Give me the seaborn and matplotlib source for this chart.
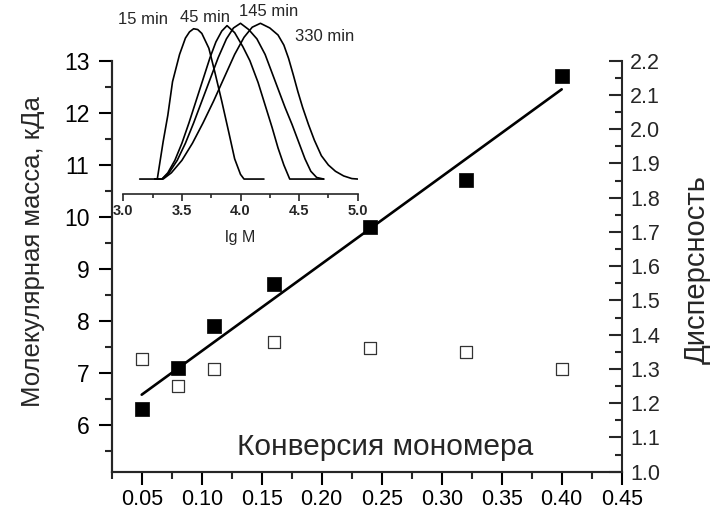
import matplotlib
matplotlib.use("Agg")
import matplotlib.pyplot as plt
import seaborn as sns
import pandas as pd
from matplotlib.ticker import MultipleLocator

# Основные данные
conversion = [0.05, 0.08, 0.11, 0.16, 0.24, 0.32, 0.40]
mol_mass = [6.3, 7.1, 7.9, 8.7, 9.8, 10.7, 12.7]
dispersity = [1.33, 1.25, 1.30, 1.38, 1.36, 1.35, 1.30]

# Прямая (концы линии)
fit_x = [0.05, 0.40]
fit_y = [6.58, 12.45]

# ГПХ-кривые для вставки
lgm_15 = [3.14, 3.29, 3.34, 3.38, 3.42, 3.48, 3.53, 3.565, 3.60, 3.635, 3.67, 3.73, 3.78, 3.84, 3.90, 3.95, 4.00, 4.03, 4.20]
h_15 = [0, 0, 0.24, 0.41, 0.625, 0.80, 0.905, 0.945, 0.965, 0.96, 0.935, 0.84, 0.69, 0.50, 0.30, 0.13, 0.03, 0, 0]

lgm_45 = [3.27, 3.33, 3.38, 3.44, 3.50, 3.56, 3.62, 3.68, 3.74, 3.79, 3.84, 3.885,
          3.95, 4.02, 4.08, 4.15, 4.21, 4.27, 4.32, 4.37, 4.42, 4.71]
h_45 = [0, 0, 0.04, 0.12, 0.23, 0.36, 0.50, 0.64, 0.78, 0.88, 0.95, 0.985,
        0.94, 0.85, 0.76, 0.62, 0.475, 0.33, 0.20, 0.09, 0, 0]

lgm_145 = [3.27, 3.33, 3.39, 3.46, 3.53, 3.60, 3.67, 3.74, 3.81, 3.88, 3.94, 4.00,
           4.07, 4.14, 4.21, 4.27, 4.32, 4.38, 4.44, 4.50, 4.55, 4.60, 4.65, 4.71]
h_145 = [0, 0, 0.04, 0.12, 0.23, 0.36, 0.50, 0.64, 0.78, 0.90, 0.97, 1.0,
         0.96, 0.90, 0.80, 0.68, 0.58, 0.46, 0.35, 0.23, 0.13, 0.05, 0.01, 0]

lgm_330 = [3.27, 3.34, 3.41, 3.50, 3.59, 3.68, 3.77, 3.86, 3.95, 4.03, 4.10, 4.17,
           4.25, 4.32, 4.37, 4.41, 4.45, 4.49, 4.53, 4.58, 4.63, 4.69, 4.75, 4.81, 4.88, 4.95, 5.0]
h_330 = [0, 0, 0.04, 0.12, 0.23, 0.36, 0.50, 0.65, 0.80, 0.91, 0.975, 1.0,
         0.97, 0.925, 0.86, 0.775, 0.67, 0.56, 0.46, 0.35, 0.25, 0.15, 0.09, 0.05, 0.02, 0.003, 0]

curve_labels = ["15 min", "45 min", "145 min", "330 min"]

sns.set_style("ticks")
plt.rcParams['font.family'] = ['Liberation Sans', 'DejaVu Sans']

fig = plt.figure(figsize=(7.19, 5.16), dpi=100)
ax = fig.add_axes([111.7 / 719, 1 - 471.7 / 516, 510 / 719, 411 / 516])
ax2 = ax.twinx()

df = pd.DataFrame({"conv": conversion, "mm": mol_mass, "disp": dispersity})

sns.scatterplot(data=df, x="conv", y="mm", ax=ax, marker="s", s=88,
                color="black", edgecolor="black", linewidth=0.5, zorder=3)
sns.lineplot(x=fit_x, y=fit_y, ax=ax, color="black", linewidth=1.9, zorder=2)
sns.scatterplot(data=df, x="conv", y="disp", ax=ax2, marker="s", s=80,
                facecolor="white", edgecolor="#333333", linewidth=0.9, zorder=3)

ax.set_xlim(0.025, 0.45)
ax.set_ylim(5.1, 13)
ax2.set_ylim(1.0, 2.2)

ax.xaxis.set_major_locator(MultipleLocator(0.05))
ax.xaxis.set_minor_locator(MultipleLocator(0.025))
ax.yaxis.set_major_locator(MultipleLocator(1))
ax.yaxis.set_minor_locator(MultipleLocator(0.5))
ax2.yaxis.set_major_locator(MultipleLocator(0.1))
ax2.yaxis.set_minor_locator(MultipleLocator(0.05))

ax.set_xticks([0.05, 0.10, 0.15, 0.20, 0.25, 0.30, 0.35, 0.40, 0.45])
ax.set_xticklabels(["0.05", "0.10", "0.15", "0.20", "0.25", "0.30", "0.35", "0.40", "0.45"])
ax2.set_yticks([1.0, 1.1, 1.2, 1.3, 1.4, 1.5, 1.6, 1.7, 1.8, 1.9, 2.0, 2.1, 2.2])
ax2.set_yticklabels(["1.0", "1.1", "1.2", "1.3", "1.4", "1.5", "1.6", "1.7", "1.8", "1.9", "2.0", "2.1", "2.2"])

for a in (ax, ax2):
    a.spines["top"].set_visible(False)
    for s in a.spines.values():
        s.set_linewidth(1.5)
ax.spines["right"].set_visible(False)

ax.tick_params(axis="both", which="major", direction="out", length=9.5, width=1.5,
               labelsize=15.5, pad=3, colors="black")
ax.tick_params(axis="both", which="minor", direction="out", length=5, width=1.5)
ax.tick_params(axis="y", labelsize=16.5, pad=6.5)
ax2.tick_params(axis="y", which="major", direction="in", length=9.5, width=1.5,
                labelsize=15.5, pad=6)
ax2.tick_params(axis="y", which="minor", direction="in", length=5, width=1.5)

ax.set_xlabel("")
ax.set_ylabel("Молекулярная масса, кДа", fontsize=18.5, va="center", ha="center")
ax.yaxis.set_label_coords(-0.155, 0.535)
ax2.set_ylabel("Дисперсность", fontsize=21, va="center", ha="center")
ax2.yaxis.set_label_coords(1.148, 0.491)

ax.text(0.536, 0.06, "Конверсия мономера", transform=ax.transAxes,
        ha="center", va="center", fontsize=21.5)

# Вставка с ГПХ-кривыми
ins = fig.add_axes([123.3 / 719, 1 - 194 / 516, 234.4 / 719, 189 / 516])
ins.set_facecolor("none")
for xs, ys in [(lgm_15, h_15), (lgm_45, h_45), (lgm_145, h_145), (lgm_330, h_330)]:
    sns.lineplot(x=xs, y=ys, ax=ins, color="black", linewidth=1.2, sort=False)
ins.set_xlim(3.0, 5.0)
ins.set_ylim(-0.096, 1.1175)
for side in ["left", "right", "top"]:
    ins.spines[side].set_visible(False)
ins.spines["bottom"].set_linewidth(1.2)
ins.set_yticks([])
ins.xaxis.set_major_locator(MultipleLocator(0.5))
ins.xaxis.set_minor_locator(MultipleLocator(0.25))
ins.set_xticks([3.0, 3.5, 4.0, 4.5, 5.0])
ins.set_xticklabels(["3.0", "3.5", "4.0", "4.5", "5.0"], fontweight="bold")
ins.tick_params(axis="x", which="major", direction="out", length=5, width=1.2,
                labelsize=10.5, pad=2)
ins.tick_params(axis="x", which="minor", direction="out", length=3, width=1.2)
ins.set_xlabel("lg M", fontsize=11.5, labelpad=9)

label_pos = [(3.164, 1.024), (3.697, 1.04), (4.243, 1.073), (4.721, 0.918)]
for txt, (lx, ly) in zip(curve_labels, label_pos):
    ins.text(lx, ly, txt, ha="center", va="center", fontsize=12, clip_on=False)

fig.savefig("out.png", dpi=100)
